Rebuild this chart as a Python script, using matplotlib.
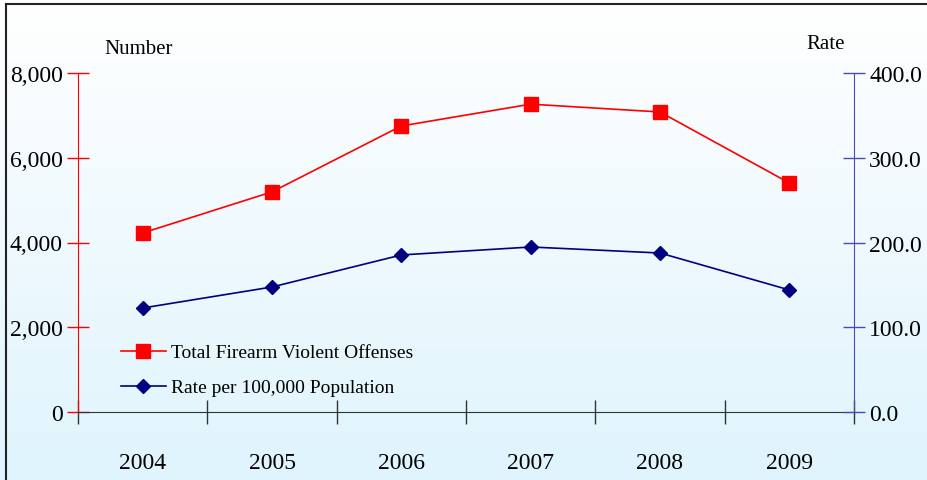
import numpy as np
import matplotlib
matplotlib.use("Agg")
import matplotlib.pyplot as plt
from matplotlib.lines import Line2D

plt.rcParams['font.family'] = ['Liberation Serif', 'DejaVu Serif']

years = ['2004', '2005', '2006', '2007', '2008', '2009']
offenses = [4225, 5195, 6750, 7265, 7080, 5405]
rates = [122.7, 147.5, 185.3, 194.7, 187.6, 144.0]

red = '#ff0000'
navy = '#000080'
axis_blue = '#4a4ab0'

fig = plt.figure(figsize=(9.27, 4.81), dpi=100)

# background gradient, white at top to light blue at bottom
bg = fig.add_axes([0, 0, 1, 1], zorder=-10)
grad = np.linspace(0, 1, 256).reshape(-1, 1)
top = np.array([1.0, 1.0, 1.0])
bot = np.array([0xdf, 0xf4, 0xfd]) / 255
img = top + (bot - top) * grad[:, :, None]
bg.imshow(img, aspect='auto', extent=[0, 1, 0, 1], origin='upper')
bg.set_xlim(0, 1)
bg.set_ylim(0, 1)
bg.axis('off')
# frame lines (top and left)
bg.plot([6 / 927, 1], [1 - 5 / 481, 1 - 5 / 481], color='#222222', lw=1.5)
bg.plot([6 / 927, 6 / 927], [0, 1 - 5 / 481], color='#222222', lw=1.5)

ax = fig.add_axes([78 / 927, 1 - 413 / 481, (854 - 78) / 927, (413 - 74) / 481])
ax.patch.set_alpha(0)
x = np.arange(len(years))
ax.plot(x, offenses, color=red, lw=1.2, marker='s', ms=10.5, zorder=5)
ax.set_xlim(-0.5, len(years) - 0.5)
ax.set_ylim(0, 8000)
ax.set_yticks(np.arange(0, 8001, 2000))
ax.set_yticklabels([f'{v:,}' for v in range(0, 8001, 2000)], fontsize=17)
ax.tick_params(axis='y', colors=red, direction='inout', length=16, width=1, labelcolor='black', pad=3)
ax.set_xticks(x)
ax.set_xticklabels(years, fontsize=17)
ax.set_xticks(np.arange(-0.5, len(years)), minor=True)
ax.tick_params(axis='x', which='major', length=0, pad=29)
ax.tick_params(axis='x', which='minor', direction='inout', length=17, width=1, color='#333333')
for s in ['top', 'right']:
    ax.spines[s].set_visible(False)
ax.spines['left'].set_color(red)
ax.spines['bottom'].set_color('#333333')

ax2 = ax.twinx()
ax2.plot(x, rates, color=navy, lw=1.2, marker='D', ms=7.5, zorder=5)
ax2.set_ylim(0, 400)
ax2.set_yticks(np.arange(0, 401, 100))
ax2.set_yticklabels([f'{v:.1f}' for v in range(0, 401, 100)], fontsize=17)
ax2.tick_params(axis='y', colors=axis_blue, direction='inout', length=16, width=1, labelcolor='black', pad=3)
for s in ['top', 'left', 'bottom']:
    ax2.spines[s].set_visible(False)
ax2.spines['right'].set_color(axis_blue)

fig.text(139 / 927, 1 - 50 / 481, 'Number', fontsize=15, ha='center', va='center')
fig.text(826 / 927, 1 - 45 / 481, 'Rate', fontsize=15, ha='center', va='center')

handles = [
    Line2D([], [], color=red, lw=1.2, marker='s', ms=10.5),
    Line2D([], [], color=navy, lw=1.2, marker='D', ms=7.5),
]
ax.legend(handles, ['Total Firearm Violent Offenses', 'Rate per 100,000 Population'],
          loc='upper left', bbox_to_anchor=(35 / 776, (413 - 337) / 339), frameon=False,
          fontsize=14, handlelength=2.3, handletextpad=0.3, labelspacing=0.9, borderaxespad=0)

fig.savefig('out.png', dpi=100)
